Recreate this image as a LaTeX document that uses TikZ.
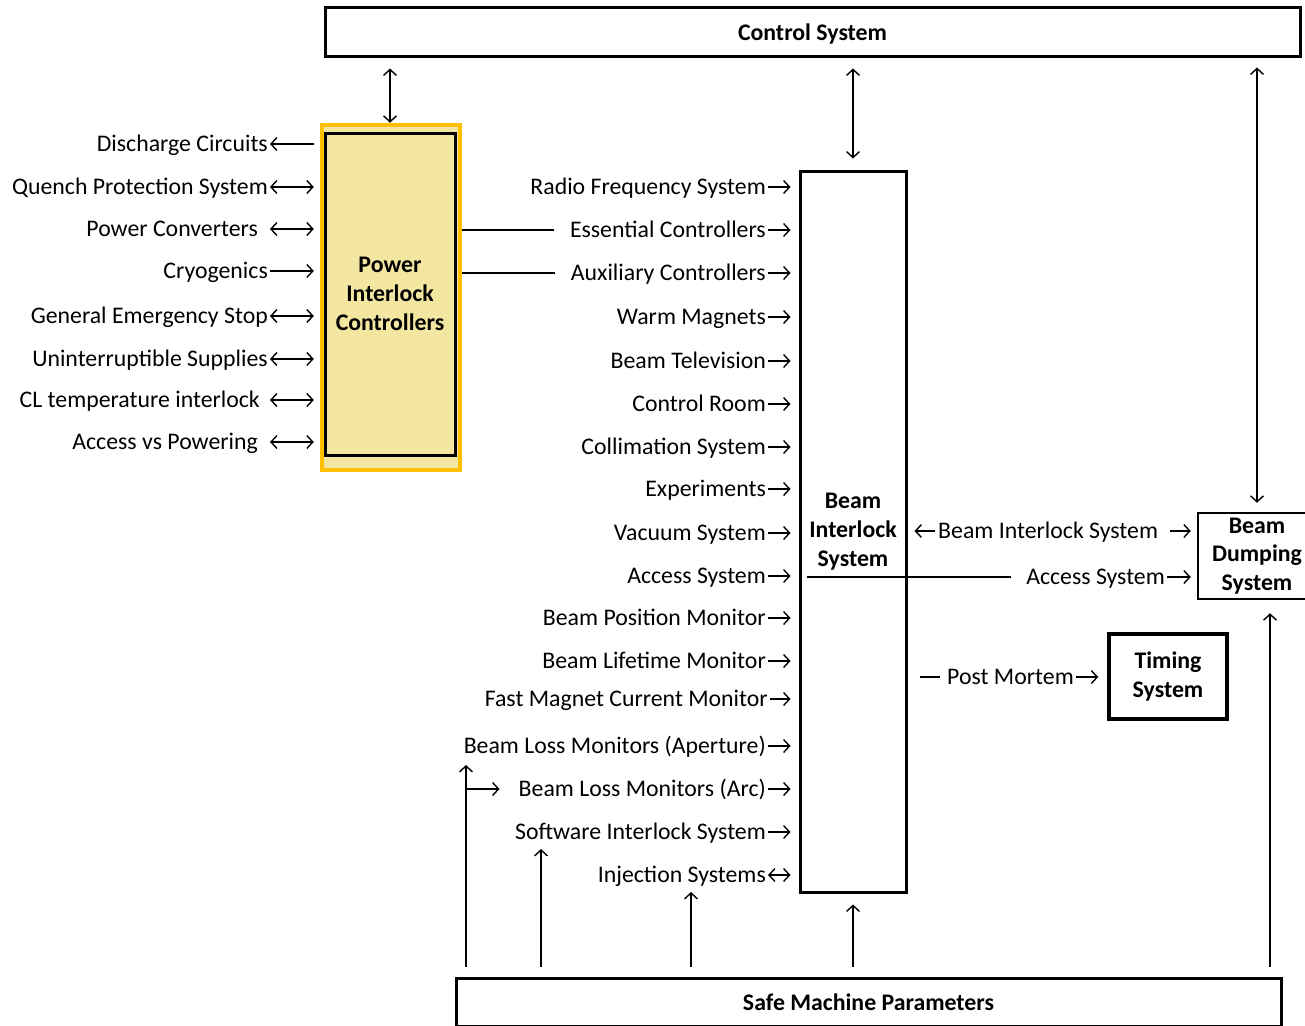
\documentclass[tikz,border=0pt]{standalone}
\usepackage{fontspec}
\setmainfont{Carlito}
\usetikzlibrary{arrows.meta}
\definecolor{picfill}{HTML}{F3E6A0}
\definecolor{picgold}{HTML}{FFC000}

\begin{document}
\begin{tikzpicture}[x=1pt, y=-1pt,
  every node/.style={font=\fontsize{23.8}{29}\selectfont},
  box/.style={draw=black, line width=3pt, align=center, inner sep=0pt, font=\fontsize{23.8}{28.8}\selectfont\bfseries},
  lbl/.style={anchor=east, inner sep=0pt, text height=19pt, text depth=4pt},
  rlbl/.style={anchor=west, inner sep=0pt, text height=19pt, text depth=4pt},
  link/.style={line width=1.4pt},
  one/.style={link, -{Straight Barb[length=6pt, width=13pt]}},
  both/.style={link, {Straight Barb[length=6pt, width=13pt]}-{Straight Barb[length=6pt, width=13pt]}}]
\useasboundingbox (0,0) rectangle (1305,1025);

% boxes
\node[box, text depth=0pt, minimum width=975pt, minimum height=49pt] (cs) at (812.5,32.5) {Control System};
\node[draw=picgold, line width=4.5pt, fill=picfill, minimum width=138pt, minimum height=345pt] (picbox) at (391,297.5) {};
\node[box, minimum width=130pt, minimum height=322pt] (pic) at (390,294) {Power\\Interlock\\Controllers};
\node[box, minimum width=106pt, minimum height=721pt] (bis) at (853,531.5) {Beam\\Interlock\\System};
\node[box, line width=2.5pt, minimum width=118pt, minimum height=86pt] (bds) at (1257,556) {Beam\\Dumping\\System};
\node[box, line width=3.5pt, minimum width=118pt, minimum height=85pt] (ts) at (1168,676.5) {Timing\\System};
\node[box, minimum width=825pt, minimum height=48pt] (smp) at (868.5,1002) {Safe Machine Parameters};

\coordinate (lx) at (270,0);
\coordinate (rx) at (768,0);
\coordinate (bdsx) at (1270,0);

% left of the power interlock controllers
\node[lbl] (dc) at (268,144) {Discharge Circuits};
\node[lbl] (qps) at (268,187) {Quench Protection System};
\node[lbl] (pc) at (258,229) {Power Converters};
\node[lbl] (cryo) at (268,271) {Cryogenics};
\node[lbl] (ges) at (268,316) {General Emergency Stop};
\node[lbl] (ups) at (268,359) {Uninterruptible Supplies};
\node[lbl] (clt) at (260,400) {CL temperature interlock};
\node[lbl] (avp) at (258,442) {Access vs Powering};

\draw[one, shorten <=6pt] (picbox.west |- dc) -- (lx |- dc);
\draw[both, shorten >=6pt] (lx |- qps) -- (picbox.west |- qps);
\draw[both, shorten >=6pt] (lx |- pc) -- (picbox.west |- pc);
\draw[one, shorten >=6pt] (lx |- cryo) -- (picbox.west |- cryo);
\draw[both, shorten >=6pt] (lx |- ges) -- (picbox.west |- ges);
\draw[both, shorten >=6pt] (lx |- ups) -- (picbox.west |- ups);
\draw[both, shorten >=6pt] (lx |- clt) -- (picbox.west |- clt);
\draw[both, shorten >=6pt] (lx |- avp) -- (picbox.west |- avp);
\draw[both, shorten <=10pt] (cs.south -| pic) -- (picbox.north -| pic);

% inputs of the beam interlock system
\node[lbl] (rfs) at (766,187) {Radio Frequency System};
\node[lbl] (ec) at (766,230) {Essential Controllers};
\node[lbl] (ac) at (766,273) {Auxiliary Controllers};
\node[lbl] (wm) at (766,317) {Warm Magnets};
\node[lbl] (btv) at (766,361) {Beam Television};
\node[lbl] (cr) at (766,404) {Control Room};
\node[lbl] (coll) at (766,447) {Collimation System};
\node[lbl] (exp) at (766,489) {Experiments};
\node[lbl] (vac) at (766,533) {Vacuum System};
\node[lbl] (acc) at (766,576) {Access System};
\node[lbl] (bpm) at (766,618) {Beam Position Monitor};
\node[lbl] (blm) at (766,661) {Beam Lifetime Monitor};
\node[lbl] (fmcm) at (768,699) {Fast Magnet Current Monitor};
\node[lbl] (blma) at (766,746) {Beam Loss Monitors (Aperture)};
\node[lbl] (blmc) at (766,789) {Beam Loss Monitors (Arc)};
\node[lbl] (sis) at (766,832) {Software Interlock System};
\node[lbl] (inj) at (766,875) {Injection Systems};

\draw[one, shorten >=8pt] (rx |- rfs) -- (bis.west |- rfs);
\draw[one, shorten >=8pt] (rx |- ec) -- (bis.west |- ec);
\draw[one, shorten >=8pt] (rx |- ac) -- (bis.west |- ac);
\draw[one, shorten >=8pt] (rx |- wm) -- (bis.west |- wm);
\draw[one, shorten >=8pt] (rx |- btv) -- (bis.west |- btv);
\draw[one, shorten >=8pt] (rx |- cr) -- (bis.west |- cr);
\draw[one, shorten >=8pt] (rx |- coll) -- (bis.west |- coll);
\draw[one, shorten >=8pt] (rx |- exp) -- (bis.west |- exp);
\draw[one, shorten >=8pt] (rx |- vac) -- (bis.west |- vac);
\draw[one, shorten >=8pt] (rx |- acc) -- (bis.west |- acc);
\draw[one, shorten >=8pt] (rx |- bpm) -- (bis.west |- bpm);
\draw[one, shorten >=8pt] (rx |- blm) -- (bis.west |- blm);
\draw[one, shorten >=8pt, shorten <=2pt] (rx |- fmcm) -- (bis.west |- fmcm);
\draw[one, shorten >=8pt] (rx |- blma) -- (bis.west |- blma);
\draw[one, shorten >=8pt] (rx |- blmc) -- (bis.west |- blmc);
\draw[one, shorten >=8pt] (rx |- sis) -- (bis.west |- sis);
\draw[both, shorten >=8pt] (rx |- inj) -- (bis.west |- inj);
\draw[link] (picbox.east |- ec) -- ([xshift=-16pt]ec.west);
\draw[link] (picbox.east |- ac) -- ([xshift=-16pt]ac.west);
\draw[both, shorten <=10pt, shorten >=11pt] (cs.south -| bis) -- (bis.north);

% beam dumping and timing
\node[rlbl] (bil) at (938,531) {Beam Interlock System};
\node[lbl] (acd) at (1165,577) {Access System};
\node[rlbl] (pm) at (947,677) {Post Mortem};

\draw[one, shorten >=7pt] ([xshift=-3pt]bil.west) -- (bis.east |- bil);
\draw[one, shorten >=6pt] ([xshift=12pt]bil.east) -- (bds.west |- bil);
\draw[link, shorten <=8pt] (bis.west |- acd) -- ([xshift=-15pt]acd.west);
\draw[one, shorten >=6pt] ([xshift=2pt]acd.east) -- (bds.west |- acd);
\draw[link, shorten <=12pt, shorten >=7pt] (bis.east |- pm) -- (pm.west);
\draw[one, shorten >=9pt] ([xshift=2pt]pm.east) -- (ts.west |- pm);
\draw[both, shorten <=9pt, shorten >=9pt] (cs.south -| bds) -- (bds.north);

% safe machine parameters
\coordinate (up1) at (466,765);
\coordinate (br) at (466,789);
\coordinate (up2) at (541,849);
\coordinate (up3) at (691,892);
\draw[one, shorten <=10pt] (smp.north -| up1) -- (up1);
\draw[one] (br) -- ([xshift=-19pt]blmc.west);
\draw[one, shorten <=10pt] (smp.north -| up2) -- (up2);
\draw[one, shorten <=10pt] (smp.north -| up3) -- (up3);
\draw[one, shorten <=10pt, shorten >=11pt] (smp.north -| bis) -- (bis.south);
\draw[one, shorten <=10pt, shorten >=13pt] (smp.north -| bdsx) -- (bdsx |- bds.south);
\end{tikzpicture}
\end{document}
